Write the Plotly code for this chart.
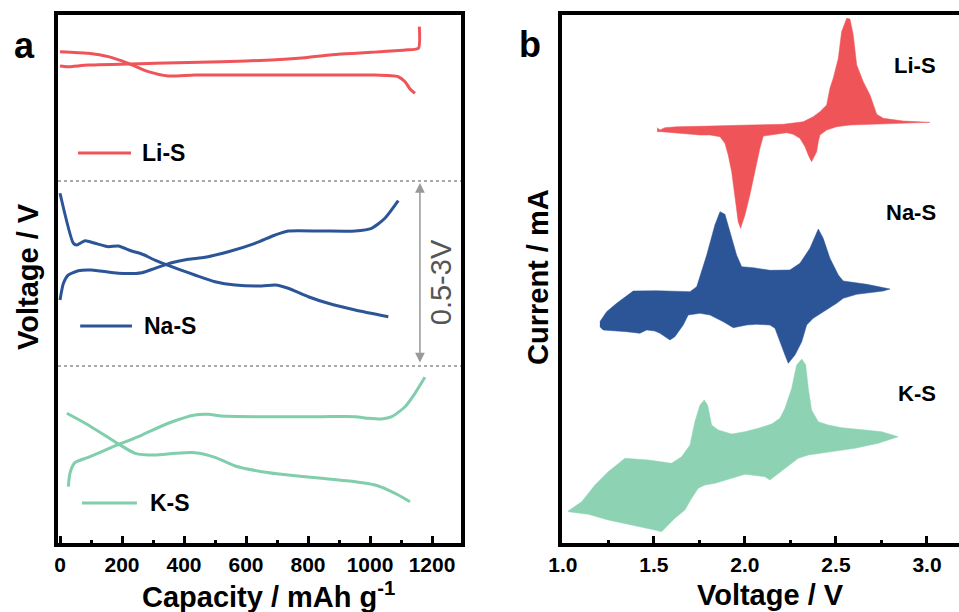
import plotly.graph_objects as go

# ---------------- Panel a: galvanostatic curves ----------------
# capacity (mAh/g) and voltage (V); each series is drawn with a vertical offset
LI_OFFSET, NA_OFFSET, K_OFFSET = 4.2, 1.89, -0.61

li_dis_cap = [0, 91, 156, 220, 285, 349, 435, 629, 844, 1005, 1091, 1113, 1129, 1145]
li_dis_v = [2.439, 2.418, 2.372, 2.282, 2.169, 2.111, 2.124, 2.124, 2.124, 2.124, 2.101, 2.034, 1.935, 1.877]
li_chg_cap = [0, 23, 91, 306, 522, 683, 790, 898, 1005, 1113, 1156, 1159]
li_chg_v = [2.245, 2.236, 2.259, 2.282, 2.304, 2.327, 2.358, 2.404, 2.431, 2.462, 2.485, 2.777]

na_dis_cap = [0, 43, 54, 81, 113, 156, 188, 231, 264, 306, 360, 435, 500, 565, 651, 694, 736, 801, 865, 952, 1059]
na_dis_v = [2.836, 2.160, 2.137, 2.195, 2.160, 2.114, 2.124, 2.056, 2.015, 1.934, 1.844, 1.732, 1.641, 1.596, 1.583, 1.596, 1.552, 1.438, 1.349, 1.259, 1.168]
na_chg_cap = [0, 11, 27, 59, 102, 188, 264, 306, 360, 414, 468, 543, 629, 694, 736, 844, 952, 1005, 1048, 1091]
na_chg_v = [1.394, 1.619, 1.732, 1.790, 1.799, 1.755, 1.763, 1.822, 1.898, 1.944, 1.971, 2.046, 2.160, 2.272, 2.326, 2.326, 2.326, 2.363, 2.498, 2.736]

k_dis_cap = [22, 91, 177, 242, 306, 371, 435, 500, 565, 651, 736, 844, 952, 1016, 1059, 1091, 1129]
k_dis_v = [2.363, 2.205, 1.979, 1.822, 1.799, 1.822, 1.830, 1.768, 1.651, 1.574, 1.529, 1.484, 1.438, 1.394, 1.326, 1.259, 1.168]
k_chg_cap = [27, 32, 48, 91, 177, 264, 349, 435, 478, 522, 629, 844, 952, 995, 1038, 1070, 1113, 1145, 1177]
k_chg_v = [1.371, 1.552, 1.695, 1.768, 1.921, 2.069, 2.228, 2.340, 2.349, 2.326, 2.317, 2.317, 2.317, 2.295, 2.286, 2.317, 2.452, 2.633, 2.849]

cap_ticks = [0, 200, 400, 600, 800, 1000, 1200]

# ---------------- Panel b: CV curves (closed loops) ----------------
LI_CV_OFFSET, NA_CV_OFFSET, K_CV_OFFSET = 4.10, 2.50, 0.63

li_cv_v_up = [1.518, 1.533, 1.560, 1.625, 1.753, 1.845, 2.027, 2.210, 2.320, 2.375, 2.412, 2.449, 2.467, 2.485, 2.513, 2.531, 2.559, 2.577, 2.595, 2.614, 2.650, 2.687, 2.724, 2.760, 2.870, 3.016]
li_cv_i_up = [0.053, 0.030, 0.053, 0.063, 0.067, 0.073, 0.080, 0.087, 0.113, 0.163, 0.213, 0.280, 0.447, 0.547, 0.747, 1.013, 1.147, 1.140, 0.980, 0.680, 0.513, 0.380, 0.187, 0.147, 0.120, 0.107]
li_cv_v_dn = [2.907, 2.797, 2.687, 2.577, 2.504, 2.449, 2.412, 2.403, 2.394, 2.366, 2.348, 2.330, 2.302, 2.265, 2.229, 2.155, 2.101, 2.082, 2.055, 2.027, 2.000, 1.976, 1.963, 1.945, 1.927, 1.908, 1.890, 1.863, 1.808, 1.753, 1.661, 1.588, 1.542, 1.518]
li_cv_i_dn = [0.100, 0.093, 0.087, 0.080, 0.063, 0.030, -0.020, -0.087, -0.187, -0.287, -0.220, -0.137, -0.053, -0.013, 0.003, -0.013, -0.030, -0.153, -0.387, -0.620, -0.820, -0.953, -0.887, -0.653, -0.387, -0.220, -0.103, -0.037, -0.020, -0.020, -0.003, 0.007, 0.013, 0.013]

na_cv_v_up = [1.203, 1.240, 1.295, 1.386, 1.515, 1.698, 1.735, 1.762, 1.790, 1.835, 1.863, 1.890, 1.918, 1.954, 1.982, 2.046, 2.137, 2.247, 2.302, 2.357, 2.403, 2.430, 2.467, 2.513, 2.540, 2.669, 2.797]
na_cv_i_up = [-0.287, -0.187, -0.103, 0.020, 0.023, 0.013, 0.063, 0.213, 0.380, 0.680, 0.813, 0.787, 0.613, 0.380, 0.263, 0.253, 0.227, 0.230, 0.297, 0.447, 0.640, 0.547, 0.347, 0.180, 0.120, 0.087, 0.040]
na_cv_v_dn = [2.760, 2.614, 2.540, 2.504, 2.430, 2.375, 2.339, 2.312, 2.275, 2.238, 2.220, 2.183, 2.165, 2.137, 2.064, 2.009, 1.954, 1.936, 1.881, 1.808, 1.753, 1.688, 1.661, 1.615, 1.588, 1.533, 1.505, 1.460, 1.423, 1.350, 1.221, 1.203]
na_cv_i_dn = [0.020, -0.013, -0.053, -0.103, -0.187, -0.253, -0.320, -0.487, -0.620, -0.703, -0.620, -0.453, -0.353, -0.320, -0.313, -0.320, -0.337, -0.347, -0.287, -0.220, -0.203, -0.220, -0.320, -0.437, -0.470, -0.403, -0.380, -0.370, -0.403, -0.387, -0.370, -0.337]

k_cv_v_up = [1.029, 1.103, 1.176, 1.249, 1.341, 1.469, 1.597, 1.652, 1.698, 1.725, 1.753, 1.776, 1.795, 1.817, 1.853, 1.927, 2.000, 2.073, 2.147, 2.192, 2.220, 2.257, 2.284, 2.312, 2.334, 2.348, 2.366, 2.403, 2.458, 2.531, 2.659, 2.751, 2.842]
k_cv_i_up = [-0.310, -0.217, -0.050, 0.083, 0.217, 0.200, 0.167, 0.233, 0.350, 0.583, 0.750, 0.800, 0.750, 0.550, 0.500, 0.460, 0.483, 0.517, 0.560, 0.617, 0.717, 0.917, 1.150, 1.210, 1.150, 0.917, 0.700, 0.583, 0.550, 0.523, 0.500, 0.483, 0.433]
k_cv_v_dn = [2.732, 2.604, 2.476, 2.348, 2.293, 2.220, 2.137, 2.110, 2.037, 2.000, 1.927, 1.835, 1.780, 1.743, 1.707, 1.670, 1.615, 1.542, 1.505, 1.377, 1.249, 1.139, 1.029]
k_cv_i_dn = [0.367, 0.317, 0.283, 0.250, 0.217, 0.117, 0.000, 0.033, 0.050, 0.057, 0.017, -0.033, -0.050, -0.083, -0.183, -0.300, -0.383, -0.517, -0.500, -0.450, -0.400, -0.343, -0.317]

volt_ticks = [1.0, 1.5, 2.0, 2.5, 3.0]
volt_tick_labels = ["1.0", "1.5", "2.0", "2.5", "3.0"]

series_names = ["Li-S", "Na-S", "K-S"]

RED = "#EF5459"
BLUE = "#2B5597"
GREEN = "#8DD3B3"
GREEN_LINE = "#80CEAB"
FONT = "Liberation Sans"

fig = go.Figure()

def add_curve(cap, v, off, color):
    fig.add_trace(go.Scatter(x=cap, y=[a + off for a in v], mode="lines",
                             line=dict(color=color, width=3, shape="spline", smoothing=0.6),
                             xaxis="x", yaxis="y", showlegend=False, hoverinfo="skip"))

add_curve(li_dis_cap, li_dis_v, LI_OFFSET, RED)
add_curve(li_chg_cap, li_chg_v, LI_OFFSET, RED)
add_curve(na_dis_cap, na_dis_v, NA_OFFSET, BLUE)
add_curve(na_chg_cap, na_chg_v, NA_OFFSET, BLUE)
add_curve(k_dis_cap, k_dis_v, K_OFFSET, GREEN_LINE)
add_curve(k_chg_cap, k_chg_v, K_OFFSET, GREEN_LINE)

def add_loop(vu, iu, vd, idn, off, color):
    xs = vu + vd
    ys = [a + off for a in iu + idn]
    fig.add_trace(go.Scatter(x=xs, y=ys, mode="lines", fill="toself", fillcolor=color,
                             line=dict(color=color, width=0.5),
                             xaxis="x2", yaxis="y2", showlegend=False, hoverinfo="skip"))

add_loop(li_cv_v_up, li_cv_i_up, li_cv_v_dn, li_cv_i_dn, LI_CV_OFFSET, RED)
add_loop(na_cv_v_up, na_cv_i_up, na_cv_v_dn, na_cv_i_dn, NA_CV_OFFSET, BLUE)
add_loop(k_cv_v_up, k_cv_i_up, k_cv_v_dn, k_cv_i_dn, K_CV_OFFSET, GREEN)

tickfont = dict(family=FONT, size=21, color="black", weight="bold")

fig.update_layout(
    width=959, height=612,
    margin=dict(l=58, r=0, t=15, b=69, autoexpand=False),
    paper_bgcolor="white", plot_bgcolor="white",
    xaxis=dict(domain=[0, 0.4473], range=[-6.5, 1293.5], tickvals=cap_ticks,
               ticks="inside", ticklen=7, tickwidth=2.5, tickcolor="black",
               minor=dict(dtick=100, tick0=0, ticks="inside", ticklen=3, tickwidth=2.5, tickcolor="black"),
               showline=True, linewidth=4, linecolor="black", mirror=True,
               showgrid=False, zeroline=False, tickfont=tickfont, automargin=False),
    yaxis=dict(domain=[0, 1], range=[0, 7.135], showticklabels=False, ticks="",
               showline=True, linewidth=4, linecolor="black", mirror=True,
               showgrid=False, zeroline=False, automargin=False),
    xaxis2=dict(domain=[0.5594, 1], range=[0.995, 3.176], anchor="y2",
                tickvals=volt_ticks, ticktext=volt_tick_labels,
                ticks="inside", ticklen=7, tickwidth=2.5, tickcolor="black",
                minor=dict(dtick=0.25, tick0=1.0, ticks="inside", ticklen=3, tickwidth=2.5, tickcolor="black"),
                showline=True, linewidth=4, linecolor="black", mirror=True,
                showgrid=False, zeroline=False, tickfont=tickfont, automargin=False),
    yaxis2=dict(domain=[0, 1], range=[0, 5.28], anchor="x2", showticklabels=False, ticks="",
                showline=True, linewidth=4, linecolor="black", mirror=False,
                showgrid=False, zeroline=False, automargin=False),
)

shapes = []
# dashed separators in panel a
for yv in [4.892, 2.392]:
    shapes.append(dict(type="line", xref="x domain", yref="y", x0=0, x1=1, y0=yv, y1=yv,
                       line=dict(color="#555555", width=1.2, dash="3px,3px")))
# legend line samples in panel a
leg = [(58, 229, 5.270, RED), (65, 232, 2.932, BLUE), (71, 248, 0.541, GREEN_LINE)]
for x0, x1, yv, col in leg:
    shapes.append(dict(type="line", xref="x", yref="y", x0=x0, x1=x1, y0=yv, y1=yv,
                       line=dict(color=col, width=3)))
fig.update_layout(shapes=shapes)

ann = []
bold = dict(family=FONT, color="black", weight="bold")
# legend labels panel a
for (x0, x1, yv, col), name, tx in zip(leg, series_names, [258, 265, 284]):
    ann.append(dict(x=tx, y=yv, xref="x", yref="y", text=name, showarrow=False,
                    xanchor="left", yanchor="middle", font=dict(size=23, **bold)))
# labels panel b
for name, yv in zip(series_names, [4.78, 3.31, 1.50]):
    ann.append(dict(x=3.060, y=yv, xref="x2", yref="y2", text=name, showarrow=False,
                    xanchor="right", yanchor="middle", font=dict(size=22, **bold)))
# double arrow 0.5-3V
ann.append(dict(x=1161, y=4.865, ax=1161, ay=2.419, xref="x", yref="y", axref="x", ayref="y",
                text="", showarrow=True, arrowhead=2, startarrowhead=2, arrowside="end+start",
                arrowsize=1.3, startarrowsize=1.3, arrowwidth=1.5, arrowcolor="#999999"))

def paper_text(x, y, text, size, angle=0, color="black", weight="bold"):
    ann.append(dict(x=x, y=y, xref="paper", yref="paper", text=text, showarrow=False,
                    xanchor="center", yanchor="middle", textangle=angle,
                    font=dict(family=FONT, size=size, color=color, weight=weight)))

paper_text(0.4259, 0.4934, "0.5-3V", 29, angle=-90, color="#555555", weight="normal")
# panel letters
paper_text(-0.0367, 0.943, "a", 36)
paper_text(0.524, 0.945, "b", 36)
# axis titles
paper_text(-0.0333, 0.5057, "Voltage / V", 29, angle=-90)
paper_text(0.2331, -0.0985, "Capacity / mAh g<sup>-1</sup>", 29)
paper_text(0.5327, 0.5038, "Current / mA", 29, angle=-90)
paper_text(0.7913, -0.0985, "Voltage / V", 29)
fig.update_layout(annotations=ann)

fig.write_html("out.html", config={"displayModeBar": False},
               post_script="document.body.style.margin='0px';document.body.style.overflow='hidden';")
